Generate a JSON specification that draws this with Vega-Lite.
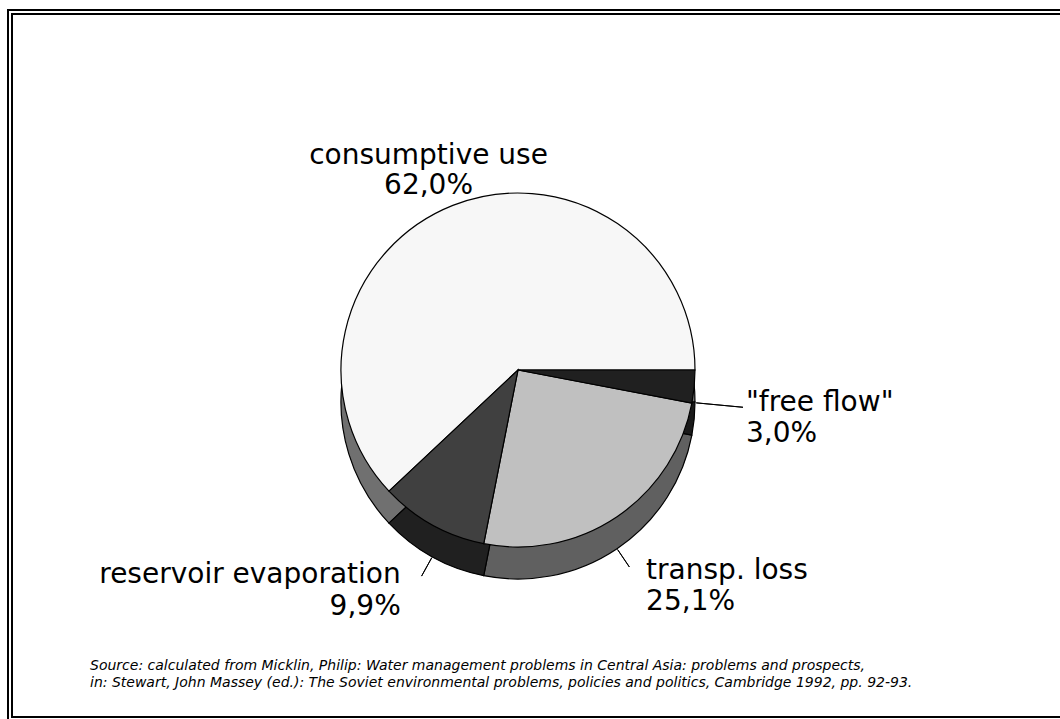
{
  "$schema": "https://vega.github.io/schema/vega-lite/v6.json",
  "width": 1016,
  "height": 698,
  "autosize": {"type": "none"},
  "padding": {"left": 10, "top": 21, "right": 34, "bottom": 0},
  "background": "white",
  "config": {
    "view": {"stroke": null},
    "locale": {"number": {"decimal": ",", "thousands": ".", "grouping": [3], "currency": ["", " €"]}}
  },
  "title": {
    "text": [
      "Source: calculated from Micklin, Philip: Water management problems in Central Asia: problems and prospects,",
      "\u00a0in: Stewart, John Massey (ed.): The Soviet environmental problems, policies and politics, Cambridge 1992, pp. 92-93."
    ],
    "orient": "bottom",
    "anchor": "start",
    "frame": "group",
    "offset": -63,
    "dx": 80,
    "font": "DejaVu Sans",
    "fontSize": 14,
    "fontStyle": "italic",
    "fontWeight": "normal",
    "color": "black",
    "lineHeight": 16.5
  },
  "data": {
    "values": [
      {"label": "consumptive use", "share": 0.620},
      {"label": "transp. loss", "share": 0.251},
      {"label": "reservoir evaporation", "share": 0.099},
      {"label": "\"free flow\"", "share": 0.030}
    ]
  },
  "layer": [
    {
      "data": {"values": [{}]},
      "mark": {"type": "rect", "filled": false, "color": "black", "strokeWidth": 6, "xOffset": 40, "yOffset": -9, "y2Offset": 1},
      "encoding": {}
    },
    {
      "data": {"values": [{}]},
      "mark": {"type": "rect", "filled": false, "color": "white", "strokeWidth": 2, "xOffset": 40, "yOffset": -9, "y2Offset": 1},
      "encoding": {}
    },
    {
      "mark": {"type": "arc", "outerRadius": 177, "yOffset": 32, "stroke": "black", "strokeWidth": 1.2},
      "encoding": {
        "theta": {"field": "share", "type": "quantitative", "stack": true, "scale": {"range": [1.759292, -4.523893]}},
        "order": {"field": "label", "type": "ordinal", "sort": "ascending"},
        "color": {
          "field": "label", "type": "nominal", "legend": null,
          "scale": {"domain": ["consumptive use", "transp. loss", "reservoir evaporation", "\"free flow\""], "range": ["#707070", "#606060", "#202020", "#1a1a1a"]}
        }
      }
    },
    {
      "mark": {"type": "arc", "innerRadius": 179, "outerRadius": 226, "yOffset": 16, "padAngle": 2, "fillOpacity": 0, "stroke": "black", "strokeWidth": 1},
      "encoding": {
        "theta": {"field": "share", "type": "quantitative", "stack": true, "scale": {"range": [1.759292, -4.523893]}},
        "order": {"field": "label", "type": "ordinal", "sort": "ascending"},
        "strokeOpacity": {"condition": {"test": {"field": "label", "oneOf": ["\"free flow\""]}, "value": 1}, "value": 0}
      }
    },
    {
      "mark": {"type": "arc", "innerRadius": 178, "outerRadius": 199, "yOffset": 32, "padAngle": 2, "fillOpacity": 0, "stroke": "black", "strokeWidth": 1},
      "encoding": {
        "theta": {"field": "share", "type": "quantitative", "stack": true, "scale": {"range": [1.759292, -4.523893]}},
        "order": {"field": "label", "type": "ordinal", "sort": "ascending"},
        "strokeOpacity": {"condition": {"test": {"field": "label", "oneOf": ["transp. loss", "reservoir evaporation"]}, "value": 1}, "value": 0}
      }
    },
    {
      "mark": {"type": "arc", "outerRadius": 177, "stroke": "black", "strokeWidth": 1.2},
      "encoding": {
        "theta": {"field": "share", "type": "quantitative", "stack": true, "scale": {"range": [1.759292, -4.523893]}},
        "order": {"field": "label", "type": "ordinal", "sort": "ascending"},
        "fill": {
          "field": "label", "type": "nominal", "legend": null,
          "scale": {"domain": ["consumptive use", "transp. loss", "reservoir evaporation", "\"free flow\""], "range": ["#f7f7f7", "#c0c0c0", "#404040", "#202020"]}
        }
      }
    },
    {
      "mark": {"type": "text", "font": "DejaVu Sans", "fontSize": 28, "color": "black", "align": "center", "baseline": "alphabetic", "radius": 243, "dy": 20},
      "encoding": {
        "theta": {"field": "share", "type": "quantitative", "stack": true, "scale": {"range": [1.759292, -4.523893]}},
        "order": {"field": "label", "type": "ordinal", "sort": "ascending"},
        "text": {"field": "label", "type": "nominal"},
        "opacity": {"condition": {"test": {"field": "label", "oneOf": ["consumptive use"]}, "value": 1}, "value": 0}
      }
    },
    {
      "mark": {"type": "text", "font": "DejaVu Sans", "fontSize": 28, "color": "black", "align": "center", "baseline": "alphabetic", "radius": 243, "dy": 50},
      "encoding": {
        "theta": {"field": "share", "type": "quantitative", "stack": true, "scale": {"range": [1.759292, -4.523893]}},
        "order": {"field": "label", "type": "ordinal", "sort": "ascending"},
        "text": {"field": "share", "type": "quantitative", "format": ".1%"},
        "opacity": {"condition": {"test": {"field": "label", "oneOf": ["consumptive use"]}, "value": 1}, "value": 0}
      }
    },
    {
      "mark": {"type": "text", "font": "DejaVu Sans", "fontSize": 28, "color": "black", "align": "left", "baseline": "alphabetic", "radius": 229, "dy": 19},
      "encoding": {
        "theta": {"field": "share", "type": "quantitative", "stack": true, "scale": {"range": [1.759292, -4.523893]}},
        "order": {"field": "label", "type": "ordinal", "sort": "ascending"},
        "text": {"field": "label", "type": "nominal"},
        "opacity": {"condition": {"test": {"field": "label", "oneOf": ["\"free flow\"", "transp. loss"]}, "value": 1}, "value": 0}
      }
    },
    {
      "mark": {"type": "text", "font": "DejaVu Sans", "fontSize": 28, "color": "black", "align": "left", "baseline": "alphabetic", "radius": 229, "dy": 50},
      "encoding": {
        "theta": {"field": "share", "type": "quantitative", "stack": true, "scale": {"range": [1.759292, -4.523893]}},
        "order": {"field": "label", "type": "ordinal", "sort": "ascending"},
        "text": {"field": "share", "type": "quantitative", "format": ".1%"},
        "opacity": {"condition": {"test": {"field": "label", "oneOf": ["\"free flow\"", "transp. loss"]}, "value": 1}, "value": 0}
      }
    },
    {
      "mark": {"type": "text", "font": "DejaVu Sans", "fontSize": 28, "color": "black", "align": "right", "baseline": "alphabetic", "radius": 242, "dy": 1},
      "encoding": {
        "theta": {"field": "share", "type": "quantitative", "stack": true, "scale": {"range": [1.759292, -4.523893]}},
        "order": {"field": "label", "type": "ordinal", "sort": "ascending"},
        "text": {"field": "label", "type": "nominal"},
        "opacity": {"condition": {"test": {"field": "label", "oneOf": ["reservoir evaporation"]}, "value": 1}, "value": 0}
      }
    },
    {
      "mark": {"type": "text", "font": "DejaVu Sans", "fontSize": 28, "color": "black", "align": "right", "baseline": "alphabetic", "radius": 242, "dy": 33},
      "encoding": {
        "theta": {"field": "share", "type": "quantitative", "stack": true, "scale": {"range": [1.759292, -4.523893]}},
        "order": {"field": "label", "type": "ordinal", "sort": "ascending"},
        "text": {"field": "share", "type": "quantitative", "format": ".1%"},
        "opacity": {"condition": {"test": {"field": "label", "oneOf": ["reservoir evaporation"]}, "value": 1}, "value": 0}
      }
    }
  ],
  "resolve": {"scale": {"color": "independent", "fill": "independent"}}
}
